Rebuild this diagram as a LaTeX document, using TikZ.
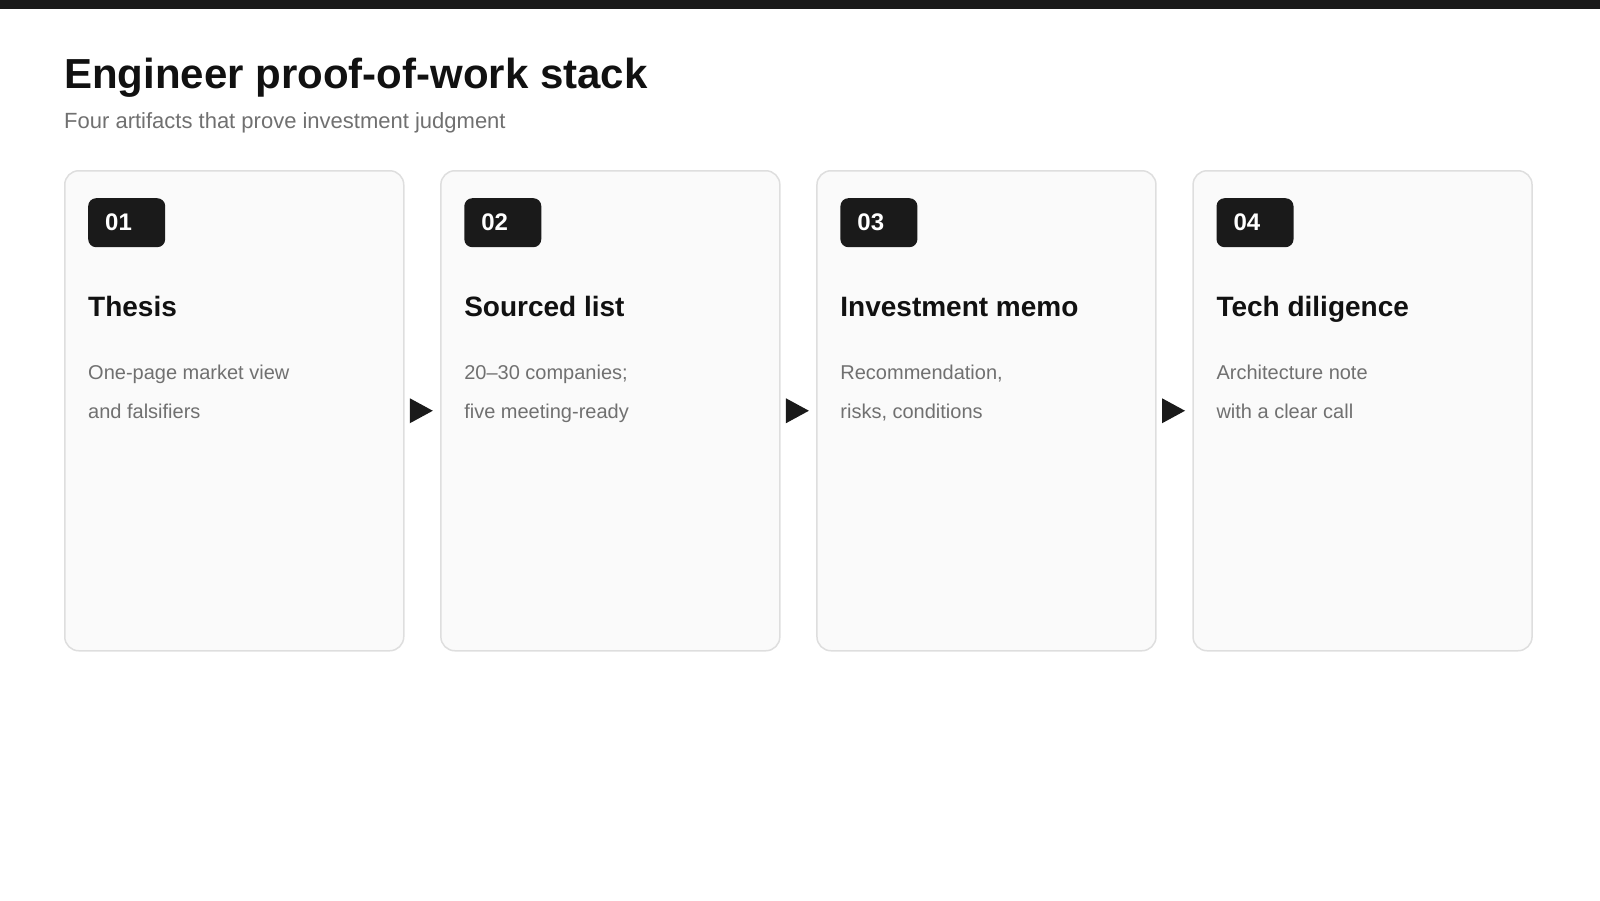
\documentclass[tikz,border=0pt]{standalone}
\usepackage{fontspec}
\setmainfont{Liberation Sans}
\usetikzlibrary{calc,positioning}
\definecolor{inkdark}{HTML}{1A1A1A}
\definecolor{inktitle}{HTML}{111111}
\definecolor{inkgray}{HTML}{707070}
\definecolor{cardfill}{HTML}{FAFAFA}
\definecolor{cardline}{HTML}{DEDEDE}
\tikzset{
  card/.style={
    rectangle,
    rounded corners=14pt,
    fill=cardfill,
    draw=cardline,
    line width=1.5pt,
    minimum width=339pt,
    minimum height=480pt,
    inner sep=0pt
  },
  badge/.style={
    rectangle,
    rounded corners=8pt,
    fill=inkdark,
    text=white,
    font=\fontsize{24}{28}\selectfont\bfseries,
    minimum height=49pt,
    text width=43pt,
    inner xsep=17pt,
    inner ysep=0pt,
    align=left
  },
  card-head/.style={inner sep=0pt, text=inktitle, font=\fontsize{28}{32}\selectfont\bfseries},
  card-body/.style={inner sep=0pt, text=inkgray, font=\fontsize{20}{24}\selectfont},
  flow-tri/.style={fill=inkdark, draw=none}
}

\begin{document}
\begin{tikzpicture}[x=1pt,y=-1pt]
  \useasboundingbox (0,0) rectangle (1600,900);
  \fill[inkdark] (0,0) rectangle (1600,9);

  % heading
  \node[inner sep=0pt, anchor=base west, text=inktitle,
        font=\fontsize{42}{50}\selectfont\bfseries] (title) at (64,88)
    {Engineer proof-of-work stack};
  \node[inner sep=0pt, anchor=base west, text=inkgray,
        font=\fontsize{22}{26}\selectfont] (subtitle) at (64,128)
    {Four artifacts that prove investment judgment};

  % the four cards
  \foreach \i/\num/\head/\lineA/\lineB in {
      1/01/Thesis/One-page market view/and falsifiers,
      2/02/Sourced list/20–30 companies;/five meeting-ready,
      3/03/Investment memo/{Recommendation,}/{risks, conditions},
      4/04/Tech diligence/Architecture note/with a clear call}{
    \node[card, anchor=north west] (card\i) at ({64+376.1*(\i-1)},170) {};
    \node[badge, anchor=north west] (badge\i) at ($(card\i.north west)+(24,28)$) {\num};
    \node[card-head, anchor=base west] (head\i) at ($(card\i.north west)+(24,146)$) {\head};
    \node[card-body, anchor=base west] (bodyA\i) at ($(card\i.north west)+(24,209)$) {\lineA};
    \node[card-body, anchor=base west] (bodyB\i) at ($(bodyA\i.base west)+(0,39.5)$) {\lineB};
  }

  % arrows between cards
  \foreach \a/\b in {1/2,2/3,3/4}{
    \coordinate (mid\a) at ($(card\a.east)!0.5!(card\b.west)+(-1,0)$);
    \fill[flow-tri] ($(mid\a)+(-11.5,-12.5)$) -- ($(mid\a)+(11.5,0)$)
      -- ($(mid\a)+(-11.5,12.5)$) -- cycle;
  }
\end{tikzpicture}
\end{document}
